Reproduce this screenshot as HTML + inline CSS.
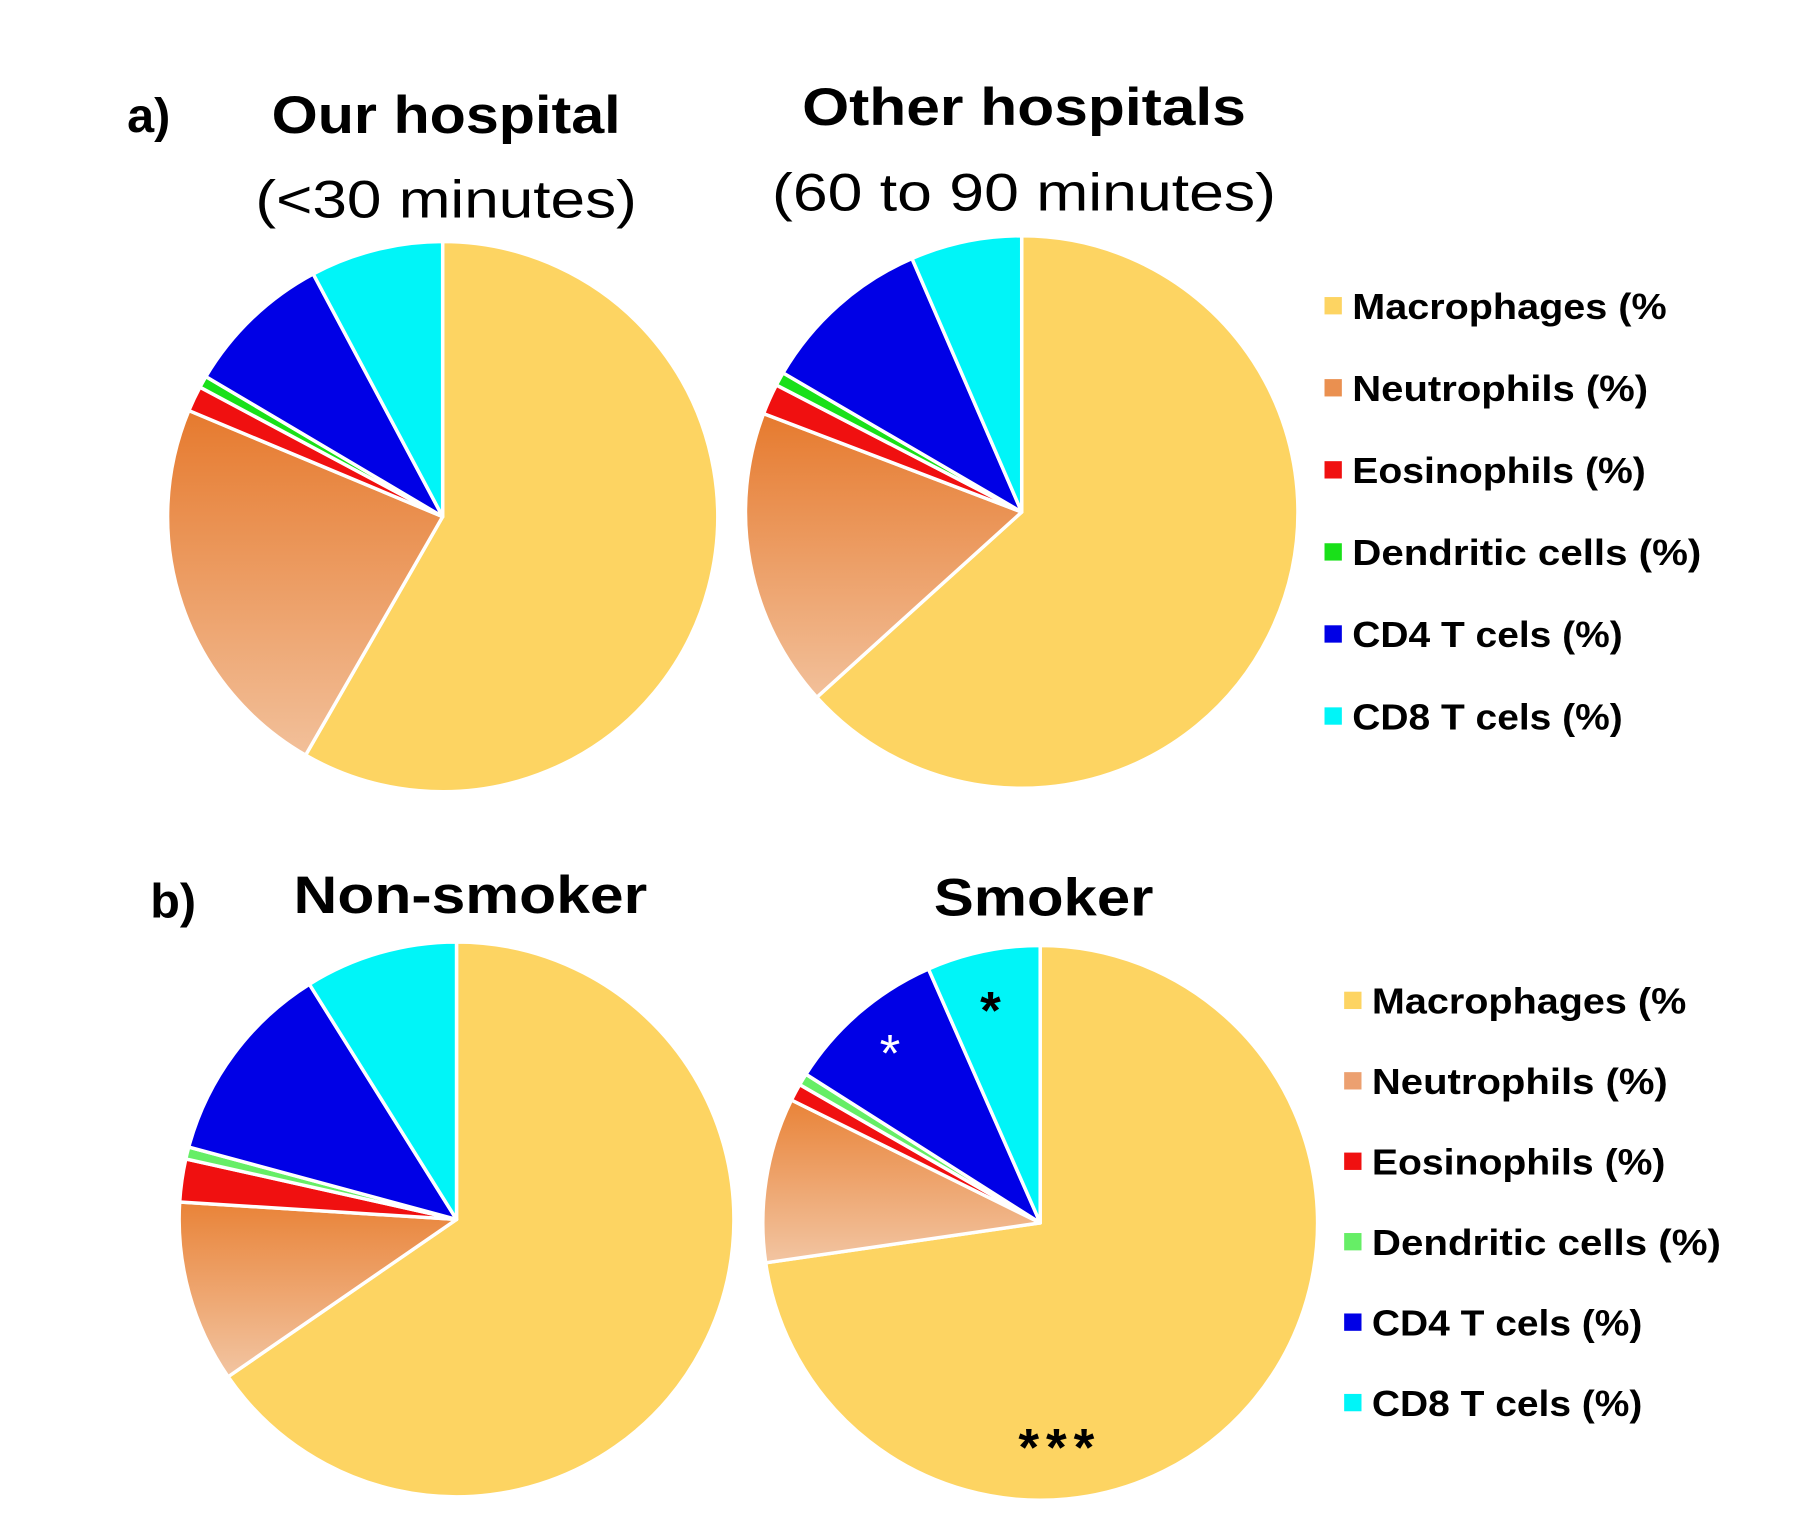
<!DOCTYPE html>
<html><head><meta charset="utf-8"><style>
html,body{margin:0;padding:0;background:#fff;}
svg{display:block;}
text{font-family:"Liberation Sans",sans-serif;}
</style></head><body>
<svg id="fig" width="1803" height="1528" viewBox="0 0 1560 1322" preserveAspectRatio="none" xmlns="http://www.w3.org/2000/svg">
<defs>
<linearGradient id="neuA" x1="0" y1="0" x2="0" y2="1"><stop offset="0" stop-color="#e67a2e"/><stop offset="1" stop-color="#f2c09a"/></linearGradient>
<linearGradient id="neuB" x1="0" y1="0" x2="0" y2="1"><stop offset="0" stop-color="#e98338"/><stop offset="1" stop-color="#f2c5a2"/></linearGradient>
</defs>
<rect width="1560" height="1322" fill="#fff"/>
<g id="titles">
<text x="110" y="114" font-size="42" font-weight="bold">a)</text>
<text x="386" y="115" font-size="46" font-weight="bold" text-anchor="middle" textLength="302" lengthAdjust="spacingAndGlyphs">Our hospital</text>
<text x="386" y="188" font-size="46" text-anchor="middle" textLength="330" lengthAdjust="spacingAndGlyphs">(&lt;30 minutes)</text>
<text x="886" y="108" font-size="46" font-weight="bold" text-anchor="middle" textLength="384" lengthAdjust="spacingAndGlyphs">Other hospitals</text>
<text x="886" y="182" font-size="46" text-anchor="middle" textLength="436" lengthAdjust="spacingAndGlyphs">(60 to 90 minutes)</text>
<text x="130" y="794" font-size="42" font-weight="bold">b)</text>
<text x="407" y="790" font-size="46" font-weight="bold" text-anchor="middle" textLength="306" lengthAdjust="spacingAndGlyphs">Non-smoker</text>
<text x="903" y="792" font-size="46" font-weight="bold" text-anchor="middle" textLength="190" lengthAdjust="spacingAndGlyphs">Smoker</text>
</g>
<g id="pies"></g>
<g id="legends"></g>
<text x="857" y="890" font-size="46" font-weight="bold" text-anchor="middle">*</text>
<text x="770" y="927" font-size="46" fill="#fff" text-anchor="middle">*</text>
<text x="917" y="1268" font-size="46" font-weight="bold" text-anchor="middle" letter-spacing="6">***</text>
</svg>
<script>
const categories = ["Macrophages (%", "Neutrophils (%)", "Eosinophils (%)", "Dendritic cells (%)", "CD4 T cels (%)", "CD8 T cels (%)"];
const ourHospital = [58.3, 23.0, 1.5, 0.7, 8.7, 7.8];
const otherHospitals = [63.3, 17.5, 1.8, 0.8, 10.1, 6.5];
const nonSmoker = [65.4, 10.6, 2.5, 0.7, 11.9, 8.9];
const smoker = [72.7, 9.6, 1.0, 0.7, 9.4, 6.6];

const NS = "http://www.w3.org/2000/svg";
const pies = document.getElementById('pies');
const legends = document.getElementById('legends');
const colorsA = ["#fdd462", "url(#neuA)", "#f01010", "#19e019", "#0000e6", "#00f5f8"];
const colorsB = ["#fdd462", "url(#neuB)", "#f01010", "#66ee66", "#0000e6", "#00f5f8"];
const legColA = ["#fdd462", "#ea9050", "#f01010", "#19e019", "#0000e6", "#00f5f8"];
const legColB = ["#fdd462", "#eca070", "#f01010", "#66ee66", "#0000e6", "#00f5f8"];
const pieSpecs = [
  {vals: ourHospital, cx: 383, cy: 447, r: 238, cols: colorsA, name: "our-hospital"},
  {vals: otherHospitals, cx: 884, cy: 443, r: 239, cols: colorsA, name: "other-hospitals"},
  {vals: nonSmoker, cx: 395, cy: 1055, r: 240, cols: colorsB, name: "non-smoker"},
  {vals: smoker, cx: 900, cy: 1058, r: 240, cols: colorsB, name: "smoker"}
];
const slug = ["macrophages", "neutrophils", "eosinophils", "dendritic", "cd4", "cd8"];
function pt(cx, cy, r, a) { return [cx + r * Math.sin(a), cy - r * Math.cos(a)]; }
pieSpecs.forEach(s => {
  const total = s.vals.reduce((a, b) => a + b, 0);
  let acc = 0;
  s.vals.forEach((v, i) => {
    const a0 = acc / total * 2 * Math.PI;
    acc += v;
    const a1 = acc / total * 2 * Math.PI;
    const p0 = pt(s.cx, s.cy, s.r, a0), p1 = pt(s.cx, s.cy, s.r, a1);
    const large = (a1 - a0) > Math.PI ? 1 : 0;
    const p = document.createElementNS(NS, 'path');
    p.setAttribute('d', `M${s.cx},${s.cy} L${p0[0]},${p0[1]} A${s.r},${s.r} 0 ${large} 1 ${p1[0]},${p1[1]} Z`);
    p.setAttribute('fill', s.cols[i]);
    p.setAttribute('stroke', '#fff');
    p.setAttribute('stroke-width', '3');
    p.setAttribute('stroke-linejoin', 'round');
    
    
    pies.appendChild(p);
  });
});
function legend(x, y0, dy, cols, name) {
  categories.forEach((c, i) => {
    const y = y0 + i * dy;
    const r = document.createElementNS(NS, 'rect');
    r.setAttribute('x', x); r.setAttribute('y', y - 8);
    r.setAttribute('width', 15); r.setAttribute('height', 15);
    r.setAttribute('fill', cols[i]);
    
    
    legends.appendChild(r);
    const t = document.createElementNS(NS, 'text');
    t.setAttribute('x', x + 24); t.setAttribute('y', y + 11);
    t.setAttribute('font-size', '31'); t.setAttribute('font-weight', 'bold');
    t.textContent = c;
    const w = [272, 256, 254, 302, 234, 234][i];
    t.setAttribute('textLength', w);
    t.setAttribute('lengthAdjust', 'spacingAndGlyphs');
    
    
    legends.appendChild(t);
  });
}
legend(1146, 265, 71, legColA, 'legend-a');
legend(1163, 866, 69.6, legColB, 'legend-b');
</script>
</body></html>
